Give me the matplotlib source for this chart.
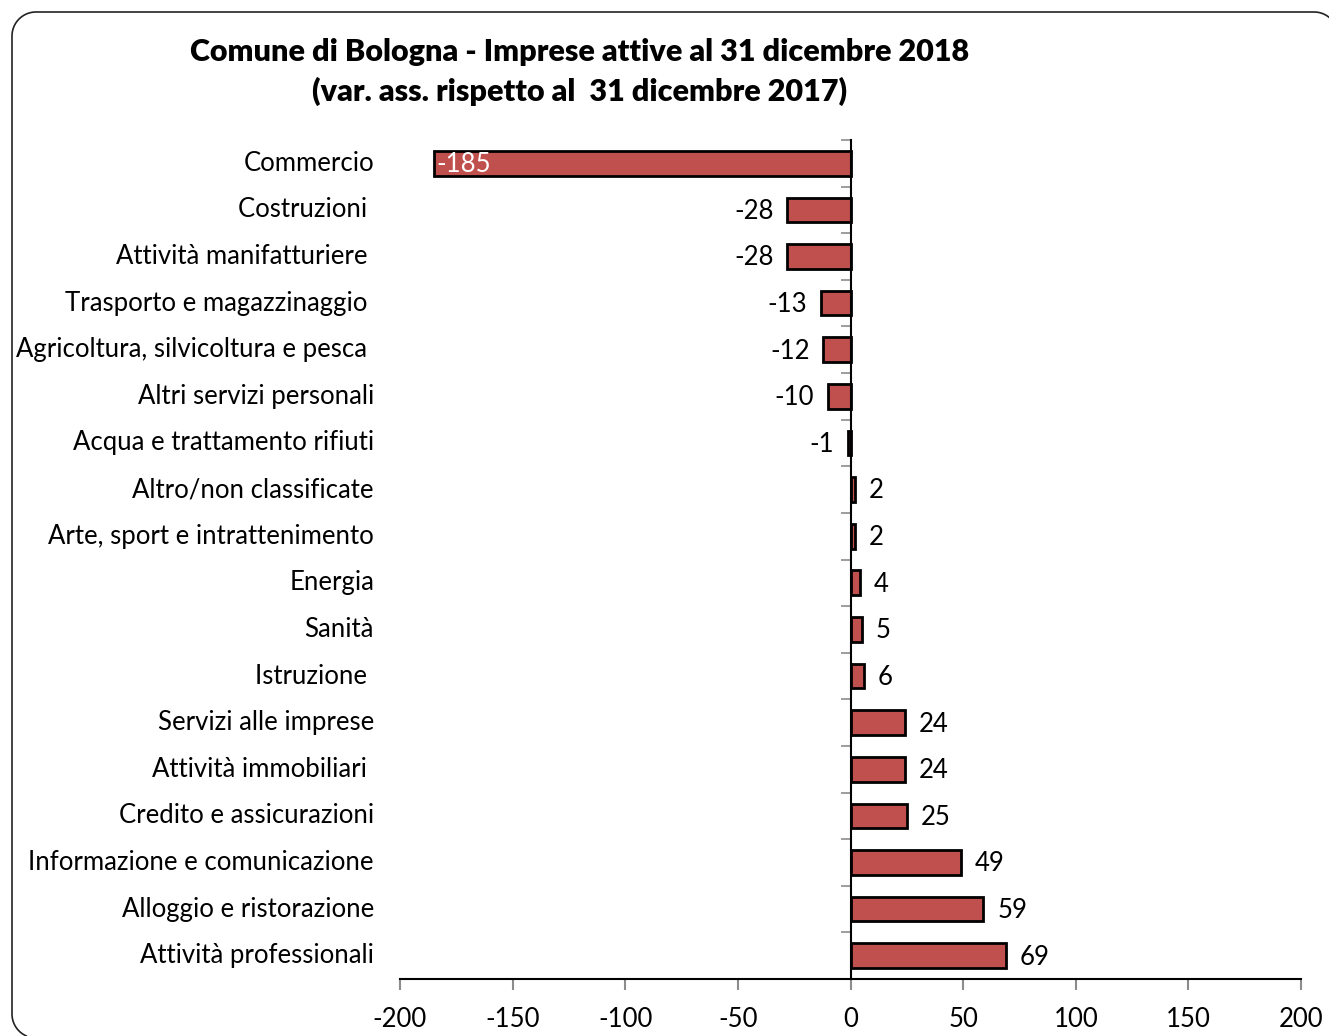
import matplotlib
matplotlib.use("Agg")
import matplotlib.pyplot as plt
import numpy as np
from matplotlib.lines import Line2D

plt.rcParams["font.family"] = ["Lato", "DejaVu Sans"]

categories = [
    "Commercio", "Costruzioni ", "Attività manifatturiere ",
    "Trasporto e magazzinaggio ", "Agricoltura, silvicoltura e pesca ",
    "Altri servizi personali", "Acqua e trattamento rifiuti",
    "Altro/non classificate", "Arte, sport e intrattenimento", "Energia",
    "Sanità", "Istruzione ", "Servizi alle imprese", "Attività immobiliari ",
    "Credito e assicurazioni", "Informazione e comunicazione",
    "Alloggio e ristorazione", "Attività professionali",
]
values = [-185, -28, -28, -13, -12, -10, -1, 2, 2, 4, 5, 6, 24, 24, 25, 49, 59, 69]
x_ticks = [-200, -150, -100, -50, 0, 50, 100, 150, 200]

BAR = "#c0504d"
TICK = "#8c8c8c"
FS = 18.5
W, H = 1329, 1036

fig = plt.figure(figsize=(W / 100, H / 100), dpi=100)
ax = fig.add_axes([400 / W, 1 - 979 / H, 901 / W, 839 / H])

ypos = list(range(len(categories)))
ax.barh(ypos, values, height=0.53, color=BAR, edgecolor="black", linewidth=2)
ax.set_xlim(-200, 200)
ax.set_ylim(len(categories) - 0.5, -0.5)

# y axis sits at zero; ticks mark the category boundaries
for s in ("top", "right"):
    ax.spines[s].set_visible(False)
ax.spines["left"].set_position(("data", 0))
ax.spines["left"].set_linewidth(1.5)
ax.spines["bottom"].set_linewidth(1.5)
ax.set_yticks([i - 0.5 for i in range(len(categories) + 1)])
ax.set_yticklabels([])
ax.tick_params(axis="y", length=7, width=1.2, color=TICK, direction="out")
ax.set_xticks(x_ticks)
ax.set_xticklabels([str(t) for t in x_ticks], fontsize=FS)
ax.tick_params(axis="x", length=8, width=1.5, color=TICK, direction="out", pad=12)

for y, name in zip(ypos, categories):
    ax.text(-26 / 901, y, name, transform=ax.get_yaxis_transform(),
            ha="right", va="center", fontsize=FS)

for y, v in zip(ypos, values):
    if v <= -100:
        ax.annotate(str(v), (v, y), xytext=(2, -1), textcoords="offset points",
                    ha="left", va="center", fontsize=FS, color="white")
    elif v < 0:
        ax.annotate(str(v), (v, y), xytext=(-10, -1), textcoords="offset points",
                    ha="right", va="center", fontsize=FS)
    else:
        ax.annotate(str(v), (v, y), xytext=(10, -1), textcoords="offset points",
                    ha="left", va="center", fontsize=FS)

fig.text(580 / W, 1 - 72 / H,
         "Comune di Bologna - Imprese attive al 31 dicembre 2018\n"
         "(var. ass. rispetto al  31 dicembre 2017)",
         ha="center", va="center", fontsize=22, fontweight="heavy",
         linespacing=1.45)


# rounded outer frame (pixel coords, y down), cut off at right and bottom
def arc(cx, cy, r, a0, a1):
    t = np.radians(np.linspace(a0, a1, 30))
    return cx + r * np.cos(t), cy - r * np.sin(t)

r = 24
tr = arc(1314, 12 + r, r, 39, 90)
tl = arc(12 + r, 12 + r, r, 90, 180)
bl = arc(12 + r, 1014, r, 180, 246)
fx = np.concatenate([tr[0], tl[0], bl[0]])
fy = np.concatenate([tr[1], tl[1], bl[1]])
fig.add_artist(Line2D(fx / 100, (H - fy) / 100, transform=fig.dpi_scale_trans,
                      color="#222222", linewidth=1.2))

fig.savefig("out.png", dpi=100)
